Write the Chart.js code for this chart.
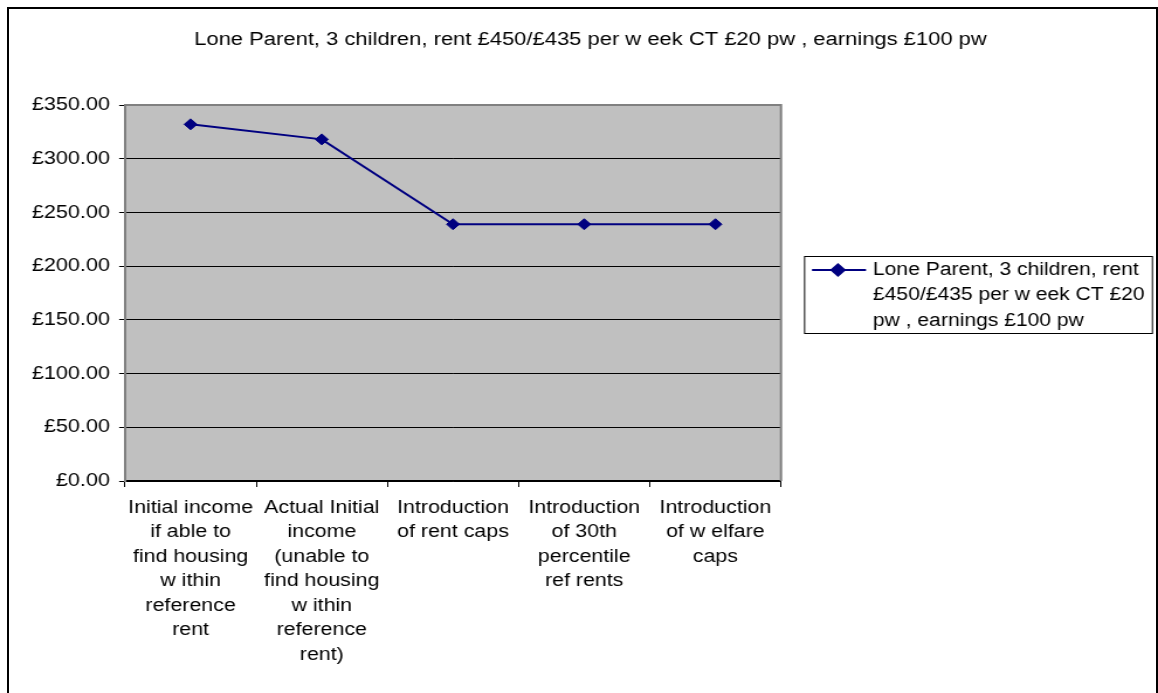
<!DOCTYPE html>
<html>
<head>
<meta charset="utf-8">
<script src="https://cdn.jsdelivr.net/npm/chart.js@4/dist/chart.umd.min.js"></script>
<style>
  html, body { margin: 0; padding: 0; background: #fff; overflow: hidden; }
  #frame { position: absolute; left: 7px; top: 7px; width: 1151px; height: 720px;
           border: 2px solid #000; box-sizing: border-box; }
  #chart { position: absolute; left: 0; top: 0; }
</style>
</head>
<body>
<div id="frame"></div>
<canvas id="chart" width="990" height="693" style="width:1158px;height:693px"></canvas>
<script>
// ---- data ----
const chartTitle = 'Lone Parent, 3 children, rent £450/£435 per w eek CT £20 pw , earnings £100 pw';
const seriesName = 'Lone Parent, 3 children, rent £450/£435 per w eek CT £20 pw , earnings £100 pw';
const legendLines = ['Lone Parent, 3 children, rent', '£450/£435 per w eek CT £20', 'pw , earnings £100 pw'];
const categories = [
  ['Initial income', 'if able to', 'find housing', 'w ithin', 'reference', 'rent'],
  ['Actual Initial', 'income', '(unable to', 'find housing', 'w ithin', 'reference', 'rent)'],
  ['Introduction', 'of rent caps'],
  ['Introduction', 'of 30th', 'percentile', 'ref rents'],
  ['Introduction', 'of w elfare', 'caps']
];
const weeklyIncome = [332, 318, 239, 239, 239];
const yMin = 0;
const yMax = 350;
const yStep = 50;

// ---- drawing ----
// The canvas is drawn at 990px wide and widened to 1158px on screen.
const SX = 1158 / 990;
const FONT = '"Liberation Sans", Arial, sans-serif';
const NAVY = '#000080';

const plotFrame = {
  id: 'plotFrame',
  beforeDraw(chart) {
    const { ctx, chartArea: a } = chart;
    ctx.save();
    ctx.fillStyle = '#c0c0c0';
    ctx.fillRect(a.left, a.top, a.right - a.left, a.bottom - a.top);
    ctx.restore();
  },
  beforeDatasetsDraw(chart) {
    const { ctx, chartArea: a } = chart;
    ctx.save();
    ctx.strokeStyle = '#808080';
    ctx.lineWidth = 2;
    ctx.beginPath();
    ctx.moveTo(a.left, a.top);
    ctx.lineTo(a.right, a.top);
    ctx.lineTo(a.right, a.bottom);
    ctx.stroke();
    ctx.restore();
  }
};

const titleAndLegend = {
  id: 'titleAndLegend',
  afterDraw(chart) {
    const { ctx } = chart;
    const ds = chart.data.datasets[0];
    ctx.save();
    ctx.fillStyle = '#000';
    ctx.textBaseline = 'middle';

    // chart title
    ctx.font = '18.8px ' + FONT;
    ctx.textAlign = 'center';
    ctx.fillText(chartTitle, 590.5 / SX, 40);

    // legend box
    ctx.font = '18px ' + FONT;
    const bx1 = 804 / SX, bx2 = 1153 / SX, by1 = 256, by2 = 334;
    ctx.fillStyle = '#fff';
    ctx.fillRect(bx1, by1, bx2 - bx1, by2 - by1);
    ctx.strokeStyle = '#000';
    ctx.lineWidth = 1;
    ctx.strokeRect(bx1 + 0.5, by1 + 0.5, bx2 - bx1 - 1, by2 - by1 - 1);

    const ly = 270;
    ctx.strokeStyle = ds.borderColor;
    ctx.lineWidth = ds.borderWidth;
    ctx.beginPath();
    ctx.moveTo(812 / SX, ly);
    ctx.lineTo(866 / SX, ly);
    ctx.stroke();
    Chart.helpers.drawPoint(ctx, {
      pointStyle: ds.pointStyle, radius: ds.pointRadius, borderWidth: 1, rotation: 0
    }, 838 / SX, ly);
    ctx.fillStyle = ds.backgroundColor;
    ctx.fill();

    ctx.fillStyle = '#000';
    ctx.textAlign = 'left';
    legendLines.forEach((line, i) => ctx.fillText(line, 873 / SX, ly + i * 25.5));
    ctx.restore();
  }
};

new Chart(document.getElementById('chart'), {
  type: 'line',
  data: {
    labels: categories,
    datasets: [{
      label: seriesName,
      data: weeklyIncome,
      borderColor: NAVY,
      backgroundColor: NAVY,
      borderWidth: 2,
      pointStyle: 'rectRot',
      pointRadius: 5.5,
      pointHoverRadius: 5.5,
      pointBorderWidth: 1,
      tension: 0,
      fill: false
    }]
  },
  options: {
    responsive: false,
    devicePixelRatio: 1,
    animation: false,
    events: [],
    layout: { padding: { left: 0, right: 990 - 781 / SX, top: 105, bottom: 0 } },
    plugins: { legend: { display: false }, title: { display: false }, tooltip: { enabled: false } },
    scales: {
      x: {
        offset: true,
        afterFit(axis) { axis.height = 212; },
        grid: { offset: true, drawOnChartArea: false, drawTicks: true, tickLength: 6, color: '#000' },
        border: { color: '#000', width: 1.5 },
        ticks: {
          color: '#000', padding: 8.5, maxRotation: 0, minRotation: 0, autoSkip: false,
          font: { family: FONT, size: 18.3, lineHeight: 24.5 / 18.3 }
        }
      },
      y: {
        min: yMin,
        max: yMax,
        afterFit(axis) { axis.width = 125 / SX; },
        grid: { color: '#000', lineWidth: 1, tickLength: 5 },
        border: { color: '#808080', width: 2 },
        ticks: {
          stepSize: yStep, color: '#000', padding: 7.8,
          font: { family: FONT, size: 18.5 },
          callback: (v) => '£' + Number(v).toFixed(2)
        }
      }
    }
  },
  plugins: [plotFrame, titleAndLegend]
});
</script>
</body>
</html>
